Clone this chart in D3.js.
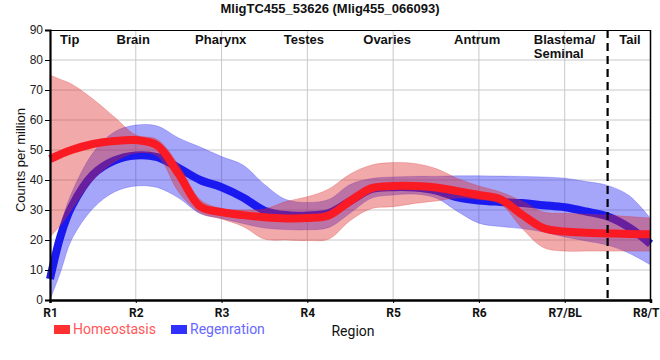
<!DOCTYPE html>
<html><head><meta charset="utf-8">
<script src="https://cdn.jsdelivr.net/npm/d3@7"></script>
<style>body{margin:0;background:#fff}svg{display:block}</style>
</head><body><svg id="c" width="660" height="360"></svg>
<script>
const title = "MligTC455_53626 (Mlig455_066093)";
const xTickLabels = ["R1","R2","R3","R4","R5","R6","R7/BL","R8/T"];
const yTicks = [0,10,20,30,40,50,60,70,80,90];
const regionNames = ["Tip","Brain","Pharynx","Testes","Ovaries","Antrum","Blastema/|Seminal","Tail"];
const regionPos = [0.23,0.97,1.99,2.96,3.93,4.98,5.64,6.76];
const boundaryPos = 6.5;
const samplePos = [0,0.125,0.25,0.5,0.75,1,1.25,1.5,1.75,2,2.25,2.5,2.75,3,3.25,3.5,3.75,4,4.25,4.5,4.75,5,5.25,5.5,5.75,6,6.25,6.5,6.75,7];
const homeoMean = [47,48.6,50,52,53,53.3,51.5,42,31.2,29.3,28.3,27.6,27.2,27.3,28.2,33,37.3,38,38,37.5,36.3,35,33.6,28.5,24,22.8,22.4,22.2,22,21.9];
const homeoHigh = [75,73.5,72,67,61,55,53.5,45,33.5,30.5,30,30.3,32.8,34.4,37,42,45,45.8,45.5,43.8,40.5,38,36,33,29.3,28.9,28.6,28.3,27.8,27.3];
const homeoLow  = [21,25,30,40,46,49,48,36,29,27,24.5,20.3,20,19.8,20.3,26.5,30.5,31.1,32.2,33,34,33.5,32,24,17.5,16.3,16.3,16.3,16.3,16.3];
const regenMean = [7,21.5,31,41.8,46.5,48.2,47.6,44,40,37.6,34.2,29.8,28.3,28.2,29,33,37,37.6,37.5,36.5,34.2,33.2,32.7,32.3,31.6,30.9,29.5,27.8,24.2,18.7];
const regenHigh = [8,25,35.5,49,56,58.3,58,54,51,47.8,45,38.5,33.5,32.5,33.5,38.5,40.5,41,41.2,41.2,41.4,41.4,41.3,41.2,41,40.6,39.5,38.2,34.8,27.2];
const regenLow  = [0,9.5,20,30.5,36,38,37.5,34,28.8,27.2,25.5,24,23.5,23.4,24.2,29,34,35,35.3,34,29.5,25.6,24.5,23.8,22.7,21,19.7,18.3,15.6,11.7];
const seriesNames = ["Homeostasis","Regenration"];

const svg = d3.select("#c");
const L=50,R=650.5,T=30,B=300;
const x = d3.scaleLinear().domain([0,7]).range([L,R]);
const y = d3.scaleLinear().domain([0,90]).range([B,T]);
const font = "'Liberation Sans', Arial, sans-serif";

// grid
svg.append("g").selectAll("line").data(d3.range(1,7)).join("line")
  .attr("x1",d=>x(d)).attr("x2",d=>x(d)).attr("y1",T).attr("y2",B)
  .attr("stroke","#c8c8c8").attr("stroke-width",1);
svg.append("g").selectAll("line").data(yTicks.filter(v=>v>0&&v<90)).join("line")
  .attr("x1",L).attr("x2",R).attr("y1",d=>y(d)).attr("y2",d=>y(d))
  .attr("stroke","#c8c8c8").attr("stroke-width",1);

const curve = d3.curveCatmullRom.alpha(0.5);
const idx = d3.range(samplePos.length);
const area = (lo,hi)=>d3.area().curve(curve).x(i=>x(samplePos[i])).y0(i=>y(lo[i])).y1(i=>y(hi[i]));
const line = (m)=>d3.line().curve(curve).x(i=>x(samplePos[i])).y(i=>y(m[i]));

// regeneration band + line
svg.append("path").attr("d",area(regenLow,regenHigh)(idx))
  .attr("fill","rgb(40,40,240)").attr("fill-opacity",0.42)
  .attr("stroke","rgb(40,40,240)").attr("stroke-opacity",0.25).attr("stroke-width",1);
svg.append("path").attr("d",line(regenMean)(idx))
  .attr("fill","none").attr("stroke","#1a1af0").attr("stroke-width",8);
// homeostasis band + line
svg.append("path").attr("d",area(homeoLow,homeoHigh)(idx))
  .attr("fill","rgb(220,40,40)").attr("fill-opacity",0.4)
  .attr("stroke","rgb(220,40,40)").attr("stroke-opacity",0.25).attr("stroke-width",1);
svg.append("path").attr("d",line(homeoMean)(idx))
  .attr("fill","none").attr("stroke","#fa1a24").attr("stroke-width",8);

// dashed boundary
svg.append("line").attr("x1",x(boundaryPos)).attr("x2",x(boundaryPos)).attr("y1",T).attr("y2",B)
  .attr("stroke","#000").attr("stroke-width",2.2).attr("stroke-dasharray","8,5");

// frame top/right
svg.append("line").attr("x1",L).attr("x2",R).attr("y1",T+0.5).attr("y2",T+0.5).attr("stroke","#000").attr("stroke-width",1.2);
svg.append("line").attr("x1",R).attr("x2",R).attr("y1",T).attr("y2",B).attr("stroke","#000").attr("stroke-width",1.5);

// axes
const yAxis = svg.append("g").attr("transform",`translate(${L},0)`)
  .call(d3.axisLeft(y).tickValues(yTicks).tickSize(5).tickPadding(2));
yAxis.select(".domain").attr("stroke","#000").attr("stroke-width",2.2);
yAxis.selectAll("text").attr("font-family",font).attr("font-size",12).attr("fill","#222");
const xAxis = svg.append("g").attr("transform",`translate(0,${B})`)
  .call(d3.axisBottom(x).tickValues(d3.range(8)).tickFormat(i=>xTickLabels[i]).tickSize(3).tickPadding(5));
xAxis.select(".domain").attr("stroke","#000").attr("stroke-width",2.5);
xAxis.selectAll("text").attr("font-family","Roboto, sans-serif").attr("font-weight","bold").attr("font-size",12).attr("fill","#111");
// keep the last label inside the picture
xAxis.selectAll(".tick").filter(d=>d===7).select("text").attr("text-anchor","end").attr("dx",8.5);

// region labels
const rl = svg.append("g").attr("font-family",font).attr("font-weight","bold").attr("font-size",13).attr("fill","#111");
regionNames.forEach((n,i)=>{
  const parts=n.split("|");
  const t = rl.append("text").attr("x",x(regionPos[i])).attr("y",44)
    .attr("text-anchor",parts.length>1?"start":"middle");
  parts.forEach((p,j)=>t.append("tspan").attr("x",x(regionPos[i])).attr("dy",j?14:0).text(p));
});

// title
svg.append("text").attr("x",330).attr("y",13).attr("text-anchor","middle")
  .attr("font-family",font).attr("font-weight","bold").attr("font-size",13).attr("fill","#111").text(title);

// y label
svg.append("text").attr("transform","translate(25,160) rotate(-90)").attr("text-anchor","middle")
  .attr("font-family",font).attr("font-size",13).attr("fill","#111").text("Counts per million");
// x label
svg.append("text").attr("x",353).attr("y",336).attr("text-anchor","middle")
  .attr("font-family","Roboto, sans-serif").attr("font-size",14).attr("fill","#111").text("Region");

// legend
const lg = svg.append("g");
const legCols = [["#ff3030","#ff5858"],["#3030ff","#6868ff"]];
const legX = [54,171];
seriesNames.forEach((n,i)=>{
  lg.append("rect").attr("x",legX[i]).attr("y",325).attr("width",16).attr("height",9).attr("fill",legCols[i][0]);
  lg.append("text").attr("x",legX[i]+19).attr("y",334).attr("font-family","Roboto, sans-serif")
    .attr("font-size",14).attr("fill",legCols[i][1]).text(n);
});
</script></body></html>
